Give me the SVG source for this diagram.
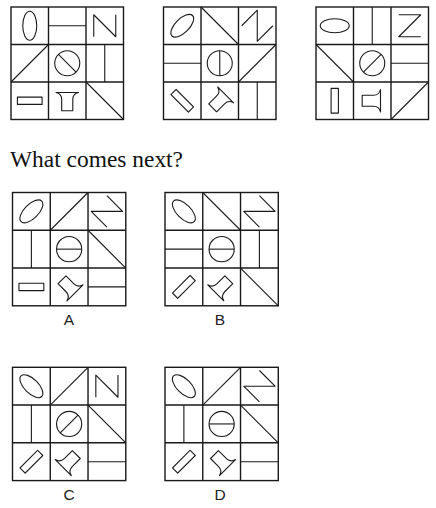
<svg xmlns="http://www.w3.org/2000/svg" xmlns:xlink="http://www.w3.org/1999/xlink" width="436" height="508" viewBox="0 0 436 508">
<style>
.frame{fill:none;stroke:#1a1a1a;stroke-width:1.4}
.s{fill:none;stroke:#1a1a1a;stroke-width:1.1;stroke-linejoin:round}
.title{font-family:"Liberation Serif","Times New Roman",serif;font-size:23px;fill:#111}
.lbl{font-family:"Liberation Sans",Arial,sans-serif;font-size:15.5px;fill:#222;text-anchor:middle}
</style>
<defs>
<g id="grid"><rect class="frame" x="0" y="0" width="112.5" height="112.5"/><path class="frame" d="M37.5,0V112.5M75,0V112.5M0,37.5H112.5M0,75H112.5"/></g>
<ellipse id="ell" class="s" cx="18.75" cy="18.75" rx="7" ry="14.5"/>
<path id="zig" class="s" d="M7.75,29.75 L7.75,7.75 L29.75,29.75 L29.75,7.75"/>
<g id="circ" class="s"><circle cx="18.75" cy="18.75" r="12.5"/><line x1="9.9" y1="9.9" x2="27.6" y2="27.6"/></g>
<rect id="bar" class="s" x="6.4" y="15.1" width="24.7" height="7.3"/>
<path id="fun" class="s" d="M7.5,10.5 L30,10.5 Q24.3,11.8 24.3,17.5 L24.3,28.8 L13.2,28.8 L13.2,17.5 Q13.2,11.8 7.5,10.5 Z"/>
<line id="mid" class="s" x1="0" y1="18.75" x2="37.5" y2="18.75"/>
<line id="diag" class="s" x1="0" y1="0" x2="37.5" y2="37.5"/>
</defs>

<g id="puzzle-1" transform="translate(11,7)">
<use xlink:href="#grid"/>
<use xlink:href="#ell"/>
<use xlink:href="#mid" transform="translate(37.5,0)"/>
<use xlink:href="#zig" transform="translate(75,0)"/>
<use xlink:href="#diag" transform="translate(0,37.5) rotate(90,18.75,18.75)"/>
<use xlink:href="#circ" transform="translate(37.5,37.5)"/>
<use xlink:href="#mid" transform="translate(75,37.5) rotate(90,18.75,18.75)"/>
<use xlink:href="#bar" transform="translate(0,75)"/>
<use xlink:href="#fun" transform="translate(37.5,75)"/>
<use xlink:href="#diag" transform="translate(75,75)"/>
</g>

<g id="puzzle-2" transform="translate(163.5,7)">
<use xlink:href="#grid"/>
<use xlink:href="#ell" transform="rotate(45,18.75,18.75)"/>
<use xlink:href="#diag" transform="translate(37.5,0)"/>
<use xlink:href="#zig" transform="translate(75,0) rotate(45,18.75,18.75)"/>
<use xlink:href="#mid" transform="translate(0,37.5)"/>
<use xlink:href="#circ" transform="translate(37.5,37.5) rotate(45,18.75,18.75)"/>
<use xlink:href="#diag" transform="translate(75,37.5) rotate(90,18.75,18.75)"/>
<use xlink:href="#bar" transform="translate(0,75) rotate(45,18.75,18.75)"/>
<use xlink:href="#fun" transform="translate(37.5,75) rotate(45,18.75,18.75)"/>
<use xlink:href="#mid" transform="translate(75,75) rotate(90,18.75,18.75)"/>
</g>

<g id="puzzle-3" transform="translate(316,7)">
<use xlink:href="#grid"/>
<use xlink:href="#ell" transform="rotate(90,18.75,18.75)"/>
<use xlink:href="#mid" transform="translate(37.5,0) rotate(90,18.75,18.75)"/>
<use xlink:href="#zig" transform="translate(75,0) rotate(90,18.75,18.75)"/>
<use xlink:href="#diag" transform="translate(0,37.5)"/>
<use xlink:href="#circ" transform="translate(37.5,37.5) rotate(90,18.75,18.75)"/>
<use xlink:href="#mid" transform="translate(75,37.5)"/>
<use xlink:href="#bar" transform="translate(0,75) rotate(90,18.75,18.75)"/>
<use xlink:href="#fun" transform="translate(37.5,75) rotate(90,18.75,18.75)"/>
<use xlink:href="#diag" transform="translate(75,75) rotate(90,18.75,18.75)"/>
</g>

<text id="question" class="title" x="10" y="166.7" textLength="173" lengthAdjust="spacingAndGlyphs">What comes next?</text>

<g id="option-A">
<g transform="translate(12.5,192.5) scale(1.007)">
<use xlink:href="#grid"/>
<use xlink:href="#ell" transform="rotate(45,18.75,18.75)"/>
<use xlink:href="#diag" transform="translate(37.5,0) rotate(90,18.75,18.75)"/>
<use xlink:href="#zig" transform="translate(75,0) rotate(135,18.75,18.75)"/>
<use xlink:href="#mid" transform="translate(0,37.5) rotate(90,18.75,18.75)"/>
<use xlink:href="#circ" transform="translate(37.5,37.5) rotate(135,18.75,18.75)"/>
<use xlink:href="#diag" transform="translate(75,37.5)"/>
<use xlink:href="#bar" transform="translate(0,75)"/>
<use xlink:href="#fun" transform="translate(37.5,75) rotate(135,18.75,18.75)"/>
<use xlink:href="#mid" transform="translate(75,75)"/>
</g>
<text class="lbl" x="69" y="325">A</text>
</g>

<g id="option-B">
<g transform="translate(165,192.5) scale(1.007)">
<use xlink:href="#grid"/>
<use xlink:href="#ell" transform="rotate(135,18.75,18.75)"/>
<use xlink:href="#diag" transform="translate(37.5,0)"/>
<use xlink:href="#zig" transform="translate(75,0) rotate(135,18.75,18.75)"/>
<use xlink:href="#mid" transform="translate(0,37.5)"/>
<use xlink:href="#circ" transform="translate(37.5,37.5) rotate(135,18.75,18.75)"/>
<use xlink:href="#mid" transform="translate(75,37.5) rotate(90,18.75,18.75)"/>
<use xlink:href="#bar" transform="translate(0,75) rotate(135,18.75,18.75)"/>
<use xlink:href="#fun" transform="translate(37.5,75) rotate(225,18.75,18.75)"/>
<use xlink:href="#diag" transform="translate(75,75)"/>
</g>
<text class="lbl" x="220" y="325">B</text>
</g>

<g id="option-C">
<g transform="translate(12.5,367.3) scale(1.007)">
<use xlink:href="#grid"/>
<use xlink:href="#ell" transform="rotate(135,18.75,18.75)"/>
<use xlink:href="#diag" transform="translate(37.5,0) rotate(90,18.75,18.75)"/>
<use xlink:href="#zig" transform="translate(75,0)"/>
<use xlink:href="#mid" transform="translate(0,37.5) rotate(90,18.75,18.75)"/>
<use xlink:href="#circ" transform="translate(37.5,37.5) rotate(90,18.75,18.75)"/>
<use xlink:href="#diag" transform="translate(75,37.5)"/>
<use xlink:href="#bar" transform="translate(0,75) rotate(135,18.75,18.75)"/>
<use xlink:href="#fun" transform="translate(37.5,75) rotate(225,18.75,18.75)"/>
<use xlink:href="#mid" transform="translate(75,75)"/>
</g>
<text class="lbl" x="69" y="499.5">C</text>
</g>

<g id="option-D">
<g transform="translate(165,367.3) scale(1.007)">
<use xlink:href="#grid"/>
<use xlink:href="#ell" transform="rotate(135,18.75,18.75)"/>
<use xlink:href="#diag" transform="translate(37.5,0) rotate(90,18.75,18.75)"/>
<use xlink:href="#zig" transform="translate(75,0) rotate(135,18.75,18.75)"/>
<use xlink:href="#mid" transform="translate(0,37.5) rotate(90,18.75,18.75)"/>
<use xlink:href="#circ" transform="translate(37.5,37.5) rotate(135,18.75,18.75)"/>
<use xlink:href="#diag" transform="translate(75,37.5)"/>
<use xlink:href="#bar" transform="translate(0,75) rotate(135,18.75,18.75)"/>
<use xlink:href="#fun" transform="translate(37.5,75) rotate(135,18.75,18.75)"/>
<use xlink:href="#mid" transform="translate(75,75)"/>
</g>
<text class="lbl" x="220" y="499.5">D</text>
</g>
</svg>
